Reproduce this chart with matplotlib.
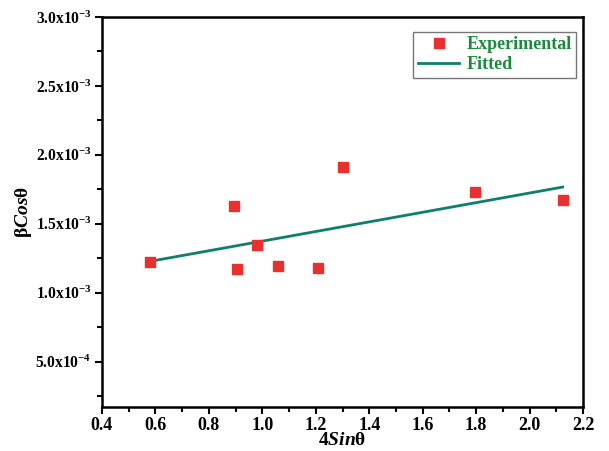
import numpy as np
import matplotlib
matplotlib.use('Agg')
from matplotlib import pyplot as plt
from matplotlib.ticker import MultipleLocator, FixedLocator, FixedFormatter

# данные
x_exp = [0.58, 0.895, 0.906, 0.981, 1.06, 1.21, 1.30, 1.796, 2.124]
y_exp = [1.220e-3, 1.625e-3, 1.172e-3, 1.346e-3, 1.190e-3, 1.179e-3, 1.908e-3, 1.727e-3, 1.672e-3]

x_fit = [0.58, 2.124]
y_fit = [1.227e-3, 1.766e-3]

y_ticks = [5.0e-4, 1.0e-3, 1.5e-3, 2.0e-3, 2.5e-3, 3.0e-3]
y_tick_labels = [r'5.0x10$^{-4}$', r'1.0x10$^{-3}$', r'1.5x10$^{-3}$',
                 r'2.0x10$^{-3}$', r'2.5x10$^{-3}$', r'3.0x10$^{-3}$']

plt.rcParams['font.family'] = 'Liberation Serif'
plt.rcParams['font.weight'] = 'bold'
plt.rcParams['axes.labelweight'] = 'bold'
plt.rcParams['mathtext.fontset'] = 'custom'
plt.rcParams['mathtext.rm'] = 'Liberation Serif:bold'
plt.rcParams['mathtext.it'] = 'Liberation Serif:italic:bold'
plt.rcParams['mathtext.bf'] = 'Liberation Serif:bold'
plt.rcParams['mathtext.default'] = 'rm'

fig = plt.figure(figsize=(6.09, 4.51), dpi=100)
ax = fig.add_axes([102 / 609, 1 - 407 / 451, 481 / 609, 390 / 451])

ax.plot(x_fit, y_fit, color='#0e7f6e', linewidth=2, label='Fitted', zorder=2)
ax.plot(x_exp, y_exp, 's', color='#e8302e', markersize=7, linestyle='none',
        label='Experimental', zorder=3)

ax.set_xlim(0.4, 2.2)
ax.set_ylim(0.17e-3, 3.0e-3)

ax.xaxis.set_major_locator(MultipleLocator(0.2))
ax.xaxis.set_minor_locator(MultipleLocator(0.1))
ax.xaxis.set_major_formatter(plt.FuncFormatter(lambda v, p: f'{v:.1f}'))
ax.yaxis.set_major_locator(FixedLocator(y_ticks))
ax.yaxis.set_major_formatter(FixedFormatter(y_tick_labels))
ax.yaxis.set_minor_locator(MultipleLocator(0.25e-3))

ax.tick_params(which='both', direction='out', width=1.5,
               top=False, right=False)
ax.tick_params(axis='x', labelsize=13)
ax.tick_params(axis='y', labelsize=11.2)
ax.tick_params(which='major', length=5, pad=2.5)
ax.tick_params(which='minor', length=3.5)
for s in ax.spines.values():
    s.set_linewidth(1.8)

ax.set_xlabel(r'4$\mathit{Sin}$$\theta$', fontsize=14, fontweight='bold', labelpad=-2)
ax.set_ylabel(r'$\beta\mathit{Cos}\theta$', fontsize=14, fontweight='bold', labelpad=1)

handles, labels = ax.get_legend_handles_labels()
leg = ax.legend(handles[::-1], labels[::-1], loc='upper right',
                bbox_to_anchor=(1.005, 0.985), prop={'size': 13, 'weight': 'bold'},
                frameon=True, fancybox=False, edgecolor='#555555', handlelength=2.3,
                borderpad=0.25, labelspacing=0.15, handletextpad=0.4)
leg.get_frame().set_linewidth(1.0)
for t in leg.get_texts():
    t.set_color('#1b8a3c')

fig.savefig('out.png', dpi=100)
plt.close(fig)
